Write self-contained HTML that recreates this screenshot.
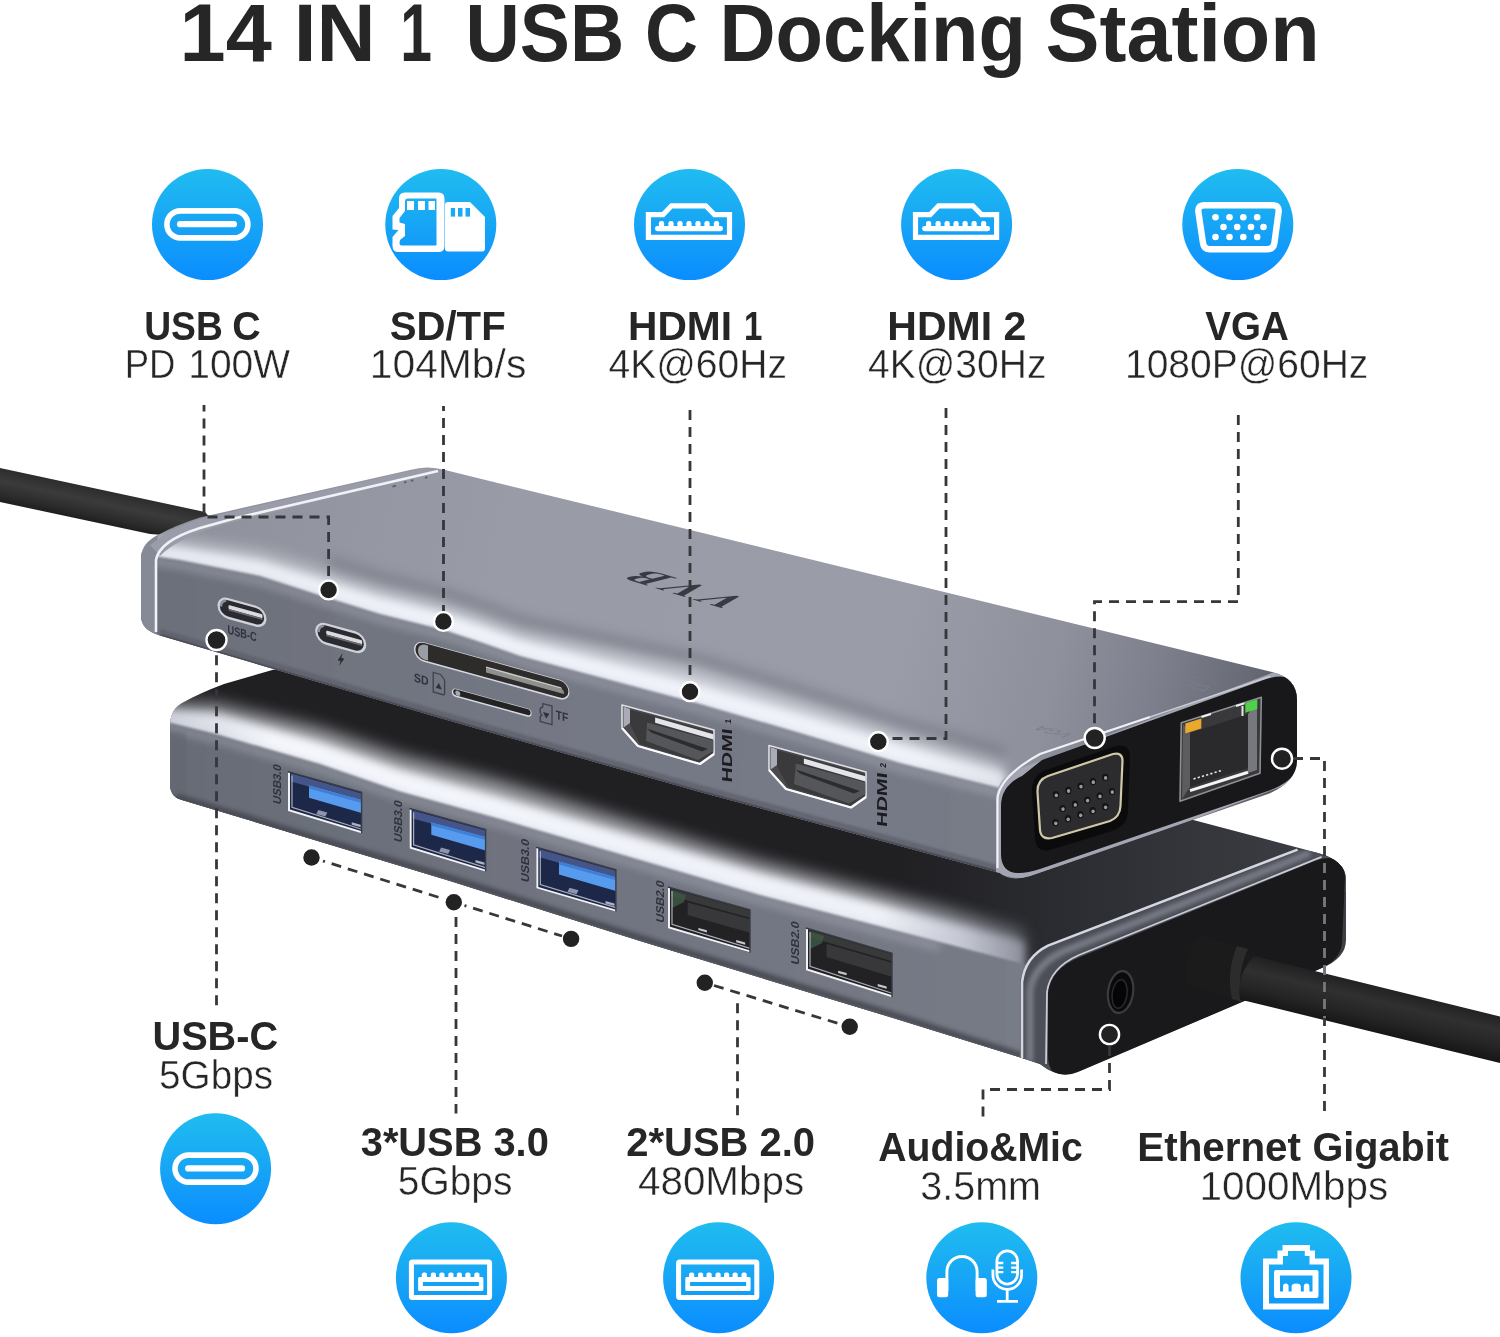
<!DOCTYPE html>
<html lang="en"><head><meta charset="utf-8"><title>14 IN 1 USB C Docking Station</title>
<style>
html,body{margin:0;padding:0;background:#fff;}
body{width:1500px;height:1337px;overflow:hidden;}
svg{display:block;position:absolute;left:0;top:0;will-change:transform;}
text{font-family:"Liberation Sans",sans-serif;fill:#262626;}
.b{font-weight:700;}
.r{stroke:#fff;stroke-width:0.45;paint-order:fill stroke;}
.pl{fill:#30323d;font-weight:700;}
.logo{font-family:"Liberation Serif",serif;font-weight:700;fill:#383a44;}
.faint{fill:#7b7f8b;}
.hl{fill:#1c1c20;font-weight:700;}
.dl{fill:none;stroke:#36363b;stroke-width:2.8;stroke-dasharray:10 7;}
</style></head>
<body>
<svg width="1500" height="1337" viewBox="0 0 1500 1337">
<rect width="1500" height="1337" fill="#ffffff"/>
<!-- defs -->
<defs>
<linearGradient id="gBlue" x1="0" y1="0" x2="0" y2="1">
<stop offset="0" stop-color="#1fbcf0"/><stop offset="0.5" stop-color="#17a5f5"/><stop offset="1" stop-color="#0a8dff"/>
</linearGradient>
<linearGradient id="gCableL" gradientUnits="userSpaceOnUse" x1="100" y1="489" x2="92" y2="526">
<stop offset="0" stop-color="#2c2c2c"/><stop offset="0.35" stop-color="#3b3b3b"/><stop offset="0.7" stop-color="#2b2b2b"/><stop offset="1" stop-color="#171717"/>
</linearGradient>
<linearGradient id="gCableR" gradientUnits="userSpaceOnUse" x1="1400" y1="992" x2="1389" y2="1038">
<stop offset="0" stop-color="#222"/><stop offset="0.3" stop-color="#303030"/><stop offset="0.65" stop-color="#252525"/><stop offset="1" stop-color="#141414"/>
</linearGradient>
<linearGradient id="gTopFace" gradientUnits="userSpaceOnUse" x1="200" y1="500" x2="1290" y2="750">
<stop offset="0" stop-color="#8f929c"/><stop offset="0.275" stop-color="#999ca6"/><stop offset="0.64" stop-color="#9a9da7"/><stop offset="0.78" stop-color="#8e919c"/><stop offset="0.87" stop-color="#7d808c"/><stop offset="0.945" stop-color="#696c77"/><stop offset="1" stop-color="#565861"/>
</linearGradient>
<linearGradient id="gTopFront" gradientUnits="userSpaceOnUse" x1="160" y1="0" x2="1000" y2="0">
<stop offset="0" stop-color="#6c707a"/><stop offset="0.5" stop-color="#757985"/><stop offset="1" stop-color="#777b87"/>
</linearGradient>
<linearGradient id="gBotFront" gradientUnits="userSpaceOnUse" x1="170" y1="0" x2="1022" y2="0">
<stop offset="0" stop-color="#686c76"/><stop offset="0.5" stop-color="#717581"/><stop offset="1" stop-color="#777b86"/>
</linearGradient>
<linearGradient id="gShadow" gradientUnits="userSpaceOnUse" x1="900" y1="0" x2="1330" y2="0">
<stop offset="0" stop-color="#202023"/><stop offset="0.4" stop-color="#2c2d32"/><stop offset="1" stop-color="#3d3f46"/>
</linearGradient>
<linearGradient id="gBotHi" gradientUnits="userSpaceOnUse" x1="170" y1="0" x2="1024" y2="0">
<stop offset="0" stop-color="#cfd2dc"/><stop offset="0.12" stop-color="#f4f6fc"/><stop offset="0.83" stop-color="#eff1f8"/><stop offset="0.93" stop-color="#c3c6d1"/><stop offset="1" stop-color="#8d909c"/>
</linearGradient>
<linearGradient id="gTopHi" gradientUnits="userSpaceOnUse" x1="150" y1="0" x2="1004" y2="0">
<stop offset="0" stop-color="#e9ebf3"/><stop offset="0.35" stop-color="#f1f3fa"/><stop offset="0.9" stop-color="#f0f2f9"/><stop offset="1" stop-color="#e2e4ec"/>
</linearGradient>
<filter id="b1" x="-5%" y="-20%" width="110%" height="140%"><feGaussianBlur stdDeviation="1"/></filter>
<filter id="b2" x="-5%" y="-20%" width="110%" height="140%"><feGaussianBlur stdDeviation="2"/></filter>
<filter id="b4" x="-5%" y="-20%" width="110%" height="140%"><feGaussianBlur stdDeviation="4"/></filter>
<filter id="b6" x="-5%" y="-20%" width="110%" height="140%"><feGaussianBlur stdDeviation="6"/></filter>
<filter id="b8" x="-5%" y="-30%" width="110%" height="160%"><feGaussianBlur stdDeviation="8"/></filter>
<filter id="b10" x="-10%" y="-30%" width="120%" height="160%"><feGaussianBlur stdDeviation="10"/></filter>
<clipPath id="cTop"><path d="M141 557 Q142 543 158 535 Q176 525 200 517.5 L410 470 Q427 465 445 470 L1272 672 Q1297 678 1297 700 L1297 760 Q1297 782 1268 794 L1030 876 Q1010 882 1000 873 L700 792 L440 718 L160 635.5 Q141 630 141 616 Z"/></clipPath>
<clipPath id="cBot"><path d="M170 724 Q171 708 184 702 Q200 693 224 684 L274 669.5 L1000 769 L1316 852.5 Q1346 860 1346 880 L1346 940 Q1346 958 1322 968 L1078 1072 Q1060 1080 1040 1064 L1022 1058 L893 1018 L640 941 L450 881 L182 800 Q170 797 170 784 Z"/></clipPath>
</defs>
<!-- cable_left -->
<g id="cable-left">
<path d="M0 468 L205 512 L230 540 L150 534 L0 502 Z" fill="url(#gCableL)"/>
</g>
<!-- bottom_hub -->
<g id="bottom-hub" clip-path="url(#cBot)">
<rect x="160" y="650" width="1200" height="440" fill="url(#gShadow)"/>
<!-- bevel highlight (soft toward shadow) -->
<path d="M150 701.0 L216 703.0 L320 728.0 L400 755.0 L500 781.0 L760 861.0 L940 907.0 L1024 931.0 L1024 990.0 L940 968.0 L760 921.0 L500 845.0 L400 817.5 L320 790.0 L216 760.0 L150 744.0 Z" fill="url(#gBotHi)" opacity="0.6" filter="url(#b8)"/>
<path d="M150 708.4 L216 713.2 L320 742.0 L400 769.5 L500 797.0 L760 873.0 L940 920.0 L1024 942.0 L1024 990.0 L940 968.0 L760 921.0 L500 845.0 L400 817.5 L320 790.0 L216 760.0 L150 744.0 Z" fill="url(#gBotHi)" filter="url(#b4)"/>
<!-- front face (sharp top edge) -->
<path d="M150 718.0 L216 734.0 L320 764.0 L400 791.5 L500 819.0 L760 895.0 L940 942.0 L1024 964.0 L1030 1100 L150 1100 Z" fill="url(#gBotFront)" filter="url(#b1)"/>
<path d="M150 723.0 L216 739.0 L320 769.0 L400 796.5 L500 824.0 L760 900.0 L940 947.0" fill="none" stroke="#b4b7c3" stroke-width="8" opacity="0.45" filter="url(#b4)"/>
<!-- left corner shade -->
<path d="M168 730 L186 734 L186 806 L168 800 Z" fill="#62666f" opacity="0.6" filter="url(#b2)"/>
<!-- bottom bevel -->
<path d="M176 797 L450 878 L640 938 L893 1015 L1022 1056" fill="none" stroke="#45474f" stroke-width="7" filter="url(#b2)" opacity="0.9"/>
<!-- chamfer -->
<path d="M1020 982 Q1024 958 1048 945.6 L1297.6 849.6 L1350 856 L1350 890 L1060 985 L1050 1075 L1020 1062 Z" fill="#4c4e58"/>
<path d="M1030 1062 L1030 990 Q1034 966 1062 952 L1310 853" fill="none" stroke="#82858f" stroke-width="7" filter="url(#b2)" opacity="0.8"/>
<path d="M1022 1058 L1022 982 Q1025 957 1048 945.6 L1297.6 849.6" fill="none" stroke="#d5d7e0" stroke-width="2.6"/>
<path d="M1046 1064 L1047 992 Q1050 968 1079 955 L1321.6 856.8" fill="none" stroke="#c9cbd4" stroke-width="1.8"/>
<!-- end face -->
<path d="M1048 994 Q1050 969 1080 957 L1316 860.5 Q1345 851 1345 878 L1342 944 Q1340 960 1320 969 L1082 1070 Q1048 1084 1048 1056 Z" fill="#19191b"/>
</g>
<!-- bottom_ports -->
<g id="bottom-ports">
<g class="usb-a"><path d="M288 771.6 L361.6 792.4 L361.6 833.2 L288 810.8 Z" fill="#1d2747"/><path d="M291 773.6 L361.6 793.4 L361.6 801.4 L291 781.6 Z" fill="#50669f" opacity="0.75"/><path d="M309.0 785.5 L361.6 799.9 L361.6 813.0 L309.0 797.7 Z" fill="#569bee"/><path d="M309.0 785.5 L361.6 799.9 L361.6 802.9 L309.0 788.5 Z" fill="#3f7fd6"/><path d="M318.3 809.9 l9 2.5 l-2 4 l-9 -2.5 Z" fill="#8c95ad"/><path d="M351.7 822.2 l9 2.5 l0 2.5 l-9 -2.5 Z" fill="#aab2c6"/><path d="M289 772.6 L289 810.1999999999999 L361.6 832.2" fill="none" stroke="#f1f2f6" stroke-width="2"/><path d="M292 775.6 L292 807.1999999999999 L361.6 829.2" fill="none" stroke="#b9bcc8" stroke-width="1.2" opacity="0.9"/><path d="M288 771.6 L361.6 792.4 L361.6 833.2" fill="none" stroke="#3a3c46" stroke-width="1.4"/></g>
<text class="pl" transform="translate(280.6 805) rotate(-90) skewX(-16)" font-size="11.4" textLength="39.5" lengthAdjust="spacingAndGlyphs">USB3.0</text>
<g class="usb-a"><path d="M409.6 808.4 L485.6 829.6 L485.6 871.6 L409.6 848.4 Z" fill="#1d2747"/><path d="M412.6 810.4 L485.6 830.6 L485.6 838.6 L412.6 818.4 Z" fill="#50669f" opacity="0.75"/><path d="M431.3 822.4 L485.6 837.1 L485.6 850.5 L431.3 834.8 Z" fill="#569bee"/><path d="M431.3 822.4 L485.6 837.1 L485.6 840.1 L431.3 825.4 Z" fill="#3f7fd6"/><path d="M441.1 847.6 l9 2.5 l-2 4 l-9 -2.5 Z" fill="#8c95ad"/><path d="M475.5 860.0 l9 2.5 l0 2.5 l-9 -2.5 Z" fill="#aab2c6"/><path d="M410.6 809.4 L410.6 847.8 L485.6 870.6" fill="none" stroke="#f1f2f6" stroke-width="2"/><path d="M413.6 812.4 L413.6 844.8 L485.6 867.6" fill="none" stroke="#b9bcc8" stroke-width="1.2" opacity="0.9"/><path d="M409.6 808.4 L485.6 829.6 L485.6 871.6" fill="none" stroke="#3a3c46" stroke-width="1.4"/></g>
<text class="pl" transform="translate(402.2 843) rotate(-90) skewX(-16)" font-size="11.4" textLength="41.5" lengthAdjust="spacingAndGlyphs">USB3.0</text>
<g class="usb-a"><path d="M536.3 847.2 L615.9 869.8 L615.9 911.6 L536.3 888.2 Z" fill="#1d2747"/><path d="M539.3 849.2 L615.9 870.8 L615.9 878.8 L539.3 857.2 Z" fill="#50669f" opacity="0.75"/><path d="M559.0 861.6 L615.9 877.3 L615.9 891.0 L559.0 874.4 Z" fill="#569bee"/><path d="M559.0 861.6 L615.9 877.3 L615.9 880.3 L559.0 864.6 Z" fill="#3f7fd6"/><path d="M569.5 887.8 l9 2.5 l-2 4 l-9 -2.5 Z" fill="#8c95ad"/><path d="M605.5 900.9 l9 2.5 l0 2.5 l-9 -2.5 Z" fill="#aab2c6"/><path d="M537.3 848.2 L537.3 887.6 L615.9 910.6" fill="none" stroke="#f1f2f6" stroke-width="2"/><path d="M540.3 851.2 L540.3 884.6 L615.9 907.6" fill="none" stroke="#b9bcc8" stroke-width="1.2" opacity="0.9"/><path d="M536.3 847.2 L615.9 869.8 L615.9 911.6" fill="none" stroke="#3a3c46" stroke-width="1.4"/></g>
<text class="pl" transform="translate(529 883) rotate(-90) skewX(-16)" font-size="11.4" textLength="43.0" lengthAdjust="spacingAndGlyphs">USB3.0</text>
<g class="usb-a"><path d="M668 887 L750 909.8 L750 952.4 L668 928 Z" fill="#222224"/><path d="M671 889 L750 910.8 L750 917.8 L671 896 Z" fill="#3b3d3d" opacity="0.9"/><path d="M687.7 902.5 L750 919.3 L750 932.8 L687.7 915.0 Z" fill="#38383a"/><path d="M672 891 l14 4 l-2 7 l-12 6 Z" fill="#3f5a45" opacity="0.8"/><path d="M698.4 927.9 l8.5 2.3 l0 2.2 l-8.5 -2.3 Z" fill="#c8c8cc"/><path d="M736.2 940.0 l9 2.5 l0 2.2 l-9 -2.5 Z" fill="#c8c8cc"/><path d="M669 888 L669 927.4 L750 951.4" fill="none" stroke="#f1f2f6" stroke-width="2"/><path d="M672 891 L672 924.4 L750 948.4" fill="none" stroke="#b9bcc8" stroke-width="1.2" opacity="0.9"/><path d="M668 887 L750 909.8 L750 952.4" fill="none" stroke="#3a3c46" stroke-width="1.4"/></g>
<text class="pl" transform="translate(663.6 923.5) rotate(-90) skewX(-16)" font-size="11.4" textLength="42.0" lengthAdjust="spacingAndGlyphs">USB2.0</text>
<g class="usb-a"><path d="M806 928 L892 953.3 L892 997.2 L806 970 Z" fill="#222224"/><path d="M809 930 L892 954.3 L892 961.3 L809 937 Z" fill="#3b3d3d" opacity="0.9"/><path d="M826.6 944.1 L892 962.8 L892 976.7 L826.6 956.9 Z" fill="#38383a"/><path d="M810 932 l14 4 l-2 7 l-12 6 Z" fill="#3f5a45" opacity="0.8"/><path d="M838.1 970.7 l8.5 2.3 l0 2.2 l-8.5 -2.3 Z" fill="#c8c8cc"/><path d="M877.7 984.0 l9 2.5 l0 2.2 l-9 -2.5 Z" fill="#c8c8cc"/><path d="M807 929 L807 969.4 L892 996.2" fill="none" stroke="#f1f2f6" stroke-width="2"/><path d="M810 932 L810 966.4 L892 993.2" fill="none" stroke="#b9bcc8" stroke-width="1.2" opacity="0.9"/><path d="M806 928 L892 953.3 L892 997.2" fill="none" stroke="#3a3c46" stroke-width="1.4"/></g>
<text class="pl" transform="translate(799.2 965.5) rotate(-90) skewX(-16)" font-size="11.4" textLength="43.0" lengthAdjust="spacingAndGlyphs">USB2.0</text>
</g>
<!-- bottom_ends -->
<g id="bottom-end-ports">
<ellipse cx="1120.6" cy="992" rx="12.5" ry="21" transform="rotate(8 1120.6 992)" fill="#0a0a0b" stroke="#3c3c40" stroke-width="2.2"/>
<ellipse cx="1119.6" cy="994" rx="7.4" ry="14.4" transform="rotate(8 1119.6 994)" fill="#050505" stroke="#2a2a2d" stroke-width="1.5"/>
</g>
<!-- cable_right -->
<g id="cable-right">
<path d="M1199 935 L1256 952 L1240 1002 L1187 984 Q1181 958 1199 935 Z" fill="#1b1b1b"/>
<path d="M1237 946 Q1226 972 1232 999 L1242 1002 Q1236 974 1248 949 Z" fill="#2c2c2c"/>
<path d="M1254 956 L1500 1016.5 L1500 1063 L1240 999.5 Q1236 976 1254 956 Z" fill="url(#gCableR)"/>
</g>
<!-- top_hub -->
<g id="top-hub" clip-path="url(#cTop)">
<!-- top face -->
<rect x="130" y="450" width="1200" height="440" fill="url(#gTopFace)"/>
<!-- darker band above bevel -->
<path d="M328 563.0 L380 579.0 L444 595.0 L480 607.0 L520 622.0 L700 661.0 L800 692.0 L900 724.0 L1004 754.0" fill="none" stroke="#6f737e" stroke-width="13" opacity="0.6" filter="url(#b6)"/>
<!-- bevel highlight (soft upper side) -->
<path d="M130 533.0 L160 539.0 L180 540.0 L260 552.0 L328 572.0 L380 588.0 L444 604.0 L480 616.0 L520 631.0 L700 670.0 L800 701.0 L900 733.0 L1004 763.0 L1004 811.0 L900 785.0 L800 755.0 L700 726.0 L520 678.0 L480 664.0 L444 652.0 L380 636.0 L328 620.0 L260 598.0 L180 582.0 L160 579.0 L130 573.0 Z" fill="url(#gTopHi)" opacity="0.55" filter="url(#b8)"/>
<path d="M130 540.5 L160 546.5 L180 548.0 L260 561.0 L328 581.5 L380 597.5 L444 613.5 L480 625.5 L520 640.2 L700 685.0 L800 714.0 L900 744.0 L1004 772.5 L1004 811.0 L900 785.0 L800 755.0 L700 726.0 L520 678.0 L480 664.0 L444 652.0 L380 636.0 L328 620.0 L260 598.0 L180 582.0 L160 579.0 L130 573.0 Z" fill="url(#gTopHi)" filter="url(#b4)"/>
<!-- front face (sharp top edge) -->
<path d="M130 551.0 L160 557.0 L180 560.0 L260 576.0 L328 598.0 L380 614.0 L444 630.0 L480 642.0 L520 656.0 L700 704.0 L800 733.0 L900 763.0 L1004 789.0 L1004 900 L130 900 Z" fill="url(#gTopFront)" filter="url(#b1)"/>
<path d="M130 556.0 L160 562.0 L180 565.0 L260 581.0 L328 603.0 L380 619.0 L444 635.0 L480 647.0 L520 661.0 L700 709.0 L800 738.0 L900 768.0 L1004 794.0" fill="none" stroke="#b4b7c3" stroke-width="8" opacity="0.45" filter="url(#b4)"/>
<!-- bottom bevel -->
<path d="M160 631 L440 713 L700 787 L997 867" fill="none" stroke="#5d606b" stroke-width="4" filter="url(#b1)" opacity="0.8"/>
<path d="M160 636 L440 718 L700 792 L997 872" fill="none" stroke="#3c3e46" stroke-width="3.4" filter="url(#b1)"/>
<!-- left chamfer -->
<path d="M138 560 Q141 544 158 532 L157 556 L157 634 L138 628 Z" fill="#868a97"/><path d="M150 545 Q170 528 200 519 L420 469 L442 471 L240 520 Q180 535 160 556 Z" fill="#9a9da9"/>
<path d="M156 632 L156 560 Q159 541 200 528 L236 518 L438 471" fill="none" stroke="#f0f2f8" stroke-width="2.6"/>
<!-- end-face chamfer + face -->
<path d="M996 800 Q996 780 1016 770 L1280 670 L1300 690 L1300 780 L1030 880 L996 874 Z" fill="#a3a6b2"/>
<path d="M997.5 868 L997.5 798 Q1000 776 1040 754 L1150 717" fill="none" stroke="#f0f1f6" stroke-width="2.2"/><path d="M1150 717 L1270 676.5" fill="none" stroke="#c9cbd4" stroke-width="1.8"/>
<path d="M1001 806 Q1001 786 1022 776 L1042 760 L1262 680.5 Q1299 667 1299 700 L1299 758 Q1299 780 1268 791 L1040 869 Q1001 882 1001 854 Z" fill="#18181a"/>
</g>
<!-- top_ports -->
<g id="top-ports">
<g transform="translate(242 612.3) skewY(15.38)"><rect x="-24.5" y="-10.5" width="49" height="21" rx="10.5" fill="#cfd2db"/><rect x="-22.1" y="-8.1" width="44.2" height="16.2" rx="8.1" fill="#2b2b2f"/><path d="M-21.0 0 a7.5 7.5 0 0 1 5 -7.3" fill="none" stroke="#8d909a" stroke-width="2.4"/><rect x="-13.5" y="-3.6" width="34.0" height="4" rx="1.2" fill="#d9dbe0"/><rect x="-13.5" y="0.4" width="34.0" height="1.6" fill="#6a6b70"/></g>
<g transform="translate(340.7 638) skewY(15.38)"><rect x="-25.5" y="-10.8" width="51" height="21.6" rx="10.8" fill="#cfd2db"/><rect x="-23.1" y="-8.4" width="46.2" height="16.8" rx="8.4" fill="#2b2b2f"/><path d="M-22.0 0 a7.800000000000001 7.800000000000001 0 0 1 5 -7.6" fill="none" stroke="#8d909a" stroke-width="2.4"/><rect x="-14.5" y="-3.6" width="36.0" height="4" rx="1.2" fill="#d9dbe0"/><rect x="-14.5" y="0.4" width="36.0" height="1.6" fill="#6a6b70"/></g>
<text class="pl" transform="translate(227.6 633.6) skewY(15.4)" font-size="12.6" textLength="29" lengthAdjust="spacingAndGlyphs">USB-C</text>
<path d="M342.6 653 L337.6 660.4 L340.6 661 L339 666 L344.4 658.6 L341.4 658 Z" fill="#2d2e34"/>
<g transform="translate(414 639.6) skewY(15.43)"><rect x="0" y="0" width="155.4" height="19.4" rx="9.7" fill="#d5d8e0"/><rect x="1.4" y="0.6" width="153.0" height="17.2" rx="8.7" fill="#2e2c2b"/><path d="M4 9.7 a7.5 7.5 0 0 1 6 -7.6 l4 0 l0 15 l-4 0 a7.5 7.5 0 0 1 -6 -7.4 Z" fill="#9a9da6"/><path d="M72 8.5 L148 8.5 Q150.5 10 150 13 L148 13 L72 13 Z" fill="#8f8f8e"/><path d="M72 7 L147 7 L148 8.6 L72 8.6 Z" fill="#c9c9c8"/></g>
<g transform="translate(451.8 687.6) skewY(15.43)"><rect x="0" y="0" width="79.8" height="8.2" rx="4.1" fill="#d5d8e0"/><rect x="1.4" y="0.6" width="77.4" height="6.0" rx="3.1" fill="#232323"/><circle cx="6" cy="4" r="2.6" fill="#a7aab3"/></g>
<text class="pl" transform="translate(414 681.6) skewY(15.4)" font-size="12.4" textLength="14.6" lengthAdjust="spacingAndGlyphs">SD</text>
<g transform="translate(432.4 672.2) skewY(15.4)"><path d="M0.8 0 H8.2 L12.2 4.4 V18 Q12.2 19.6 10.8 19.6 H0.8 Z" fill="none" stroke="#3f414c" stroke-width="1.3"/><path d="M6.4 9 L9.4 14.6 H3.4 Z" fill="#2f3038"/></g>
<text class="pl" transform="translate(555.8 718.8) skewY(15.4)" font-size="12.4" textLength="12.4" lengthAdjust="spacingAndGlyphs">TF</text>
<g transform="translate(539.4 702.6) skewY(15.4)"><path d="M3.4 0 H12.6 V18.6 H0.8 V13.6 L2.6 11.8 L0.8 10 V5.4 L3.4 3.4 Z" fill="none" stroke="#3f414c" stroke-width="1.3"/><path d="M3.6 8.4 H10 L6.8 14 Z" fill="#2f3038"/></g>
<g class="hdmi"><path d="M622 705 L714 730 L714 754 L700 764 L638 746 L622 728 Z" fill="#4a4a4d" stroke="#dfe0e6" stroke-width="1.6" stroke-linejoin="round"/><path d="M629 709.5 L713 732 L713 753 L699 762 L640 744 L629 722 Z" fill="#3a3a3c"/><path d="M623.5 706.5 L630 709 L630 723 L623.5 727.5 Z" fill="#a9acb6"/><path d="M655.1 717.6 L713.4 734.2 L713.4 739.4 L655.1 722.8 Z" fill="#e4e5ea"/><path d="M647.1 722.6 L713.4 740.5 L713.4 751.0 L698 760 L646 741 Z" fill="#55565a"/><path d="M647.1 728.6 L708 749.0 L702 751.5 L651.1 732.6 Z" fill="#2c2c2e"/><path d="M622 728 L638 746 L700 764 L714 754" fill="none" stroke="#fafbfd" stroke-width="2.2" stroke-linejoin="round"/></g>
<text class="hl" transform="translate(732 783) rotate(-90) skewX(-8)"><tspan font-size="14.4" textLength="54.0" lengthAdjust="spacingAndGlyphs">HDMI</tspan><tspan font-size="8.5" dx="2.5" dy="-1"> 1</tspan></text>
<g class="hdmi"><path d="M769 745.5 L866 772 L866 797 L851 807.5 L786 789 L769 770 Z" fill="#4a4a4d" stroke="#dfe0e6" stroke-width="1.6" stroke-linejoin="round"/><path d="M776 750.0 L865 774 L865 796 L850 805.5 L788 787 L776 764 Z" fill="#3a3a3c"/><path d="M770.5 747.0 L777 749.5 L777 765 L770.5 769.5 Z" fill="#a9acb6"/><path d="M803.9 758.6 L865.4 776.2 L865.4 781.4 L803.9 763.8 Z" fill="#e4e5ea"/><path d="M795.9 763.6 L865.4 782.5 L865.4 794.0 L849 803.5 L794 784 Z" fill="#55565a"/><path d="M795.9 769.6 L860 791.0 L854 793.5 L799.9 773.6 Z" fill="#2c2c2e"/><path d="M769 770 L786 789 L851 807.5 L866 797" fill="none" stroke="#fafbfd" stroke-width="2.2" stroke-linejoin="round"/></g>
<text class="hl" transform="translate(887 827.5) rotate(-90) skewX(-8)"><tspan font-size="14.4" textLength="54.5" lengthAdjust="spacingAndGlyphs">HDMI</tspan><tspan font-size="8.5" dx="2.5" dy="-1"> 2</tspan></text>
</g>
<!-- top_ends -->
<g id="top-end-ports">
<path d="M1032 792 Q1031 776 1046 770 L1116 746 Q1130 743 1130 756 L1128 812 Q1127 826 1112 831 L1050 850 Q1036 853 1035 838 Z" fill="#0b0b0c"/>
<path d="M1037.5 792 Q1037 780 1048 776 L1113 754 Q1122.5 752 1122.5 761 L1120.5 806 Q1120 817 1110 821 L1052 838 Q1041 840 1040 830 Z" fill="#2c2c2e" stroke="#cfc9aa" stroke-width="2.2"/>
<ellipse cx="1056.0" cy="794.7" rx="3.2" ry="3.6" fill="#141415"/><ellipse cx="1056.3" cy="795.3" rx="1.7" ry="1.9" fill="#9a9a9c"/><ellipse cx="1068.3" cy="790.4" rx="3.2" ry="3.6" fill="#141415"/><ellipse cx="1068.6" cy="791.0" rx="1.7" ry="1.9" fill="#9a9a9c"/><ellipse cx="1080.7" cy="786.0" rx="3.2" ry="3.6" fill="#141415"/><ellipse cx="1081.0" cy="786.6" rx="1.7" ry="1.9" fill="#9a9a9c"/><ellipse cx="1093.0" cy="781.6" rx="3.2" ry="3.6" fill="#141415"/><ellipse cx="1093.3" cy="782.2" rx="1.7" ry="1.9" fill="#9a9a9c"/><ellipse cx="1105.3" cy="777.3" rx="3.2" ry="3.6" fill="#141415"/><ellipse cx="1105.6" cy="777.9" rx="1.7" ry="1.9" fill="#9a9a9c"/><ellipse cx="1062.7" cy="808.5" rx="3.2" ry="3.6" fill="#141415"/><ellipse cx="1063.0" cy="809.1" rx="1.7" ry="1.9" fill="#9a9a9c"/><ellipse cx="1075.0" cy="804.2" rx="3.2" ry="3.6" fill="#141415"/><ellipse cx="1075.3" cy="804.9" rx="1.7" ry="1.9" fill="#9a9a9c"/><ellipse cx="1087.3" cy="800.0" rx="3.2" ry="3.6" fill="#141415"/><ellipse cx="1087.6" cy="800.6" rx="1.7" ry="1.9" fill="#9a9a9c"/><ellipse cx="1099.7" cy="795.8" rx="3.2" ry="3.6" fill="#141415"/><ellipse cx="1100.0" cy="796.4" rx="1.7" ry="1.9" fill="#9a9a9c"/><ellipse cx="1112.0" cy="791.5" rx="3.2" ry="3.6" fill="#141415"/><ellipse cx="1112.3" cy="792.1" rx="1.7" ry="1.9" fill="#9a9a9c"/><ellipse cx="1055.5" cy="822.7" rx="3.2" ry="3.6" fill="#141415"/><ellipse cx="1055.8" cy="823.3" rx="1.7" ry="1.9" fill="#9a9a9c"/><ellipse cx="1068.0" cy="818.7" rx="3.2" ry="3.6" fill="#141415"/><ellipse cx="1068.2" cy="819.3" rx="1.7" ry="1.9" fill="#9a9a9c"/><ellipse cx="1080.4" cy="814.7" rx="3.2" ry="3.6" fill="#141415"/><ellipse cx="1080.7" cy="815.3" rx="1.7" ry="1.9" fill="#9a9a9c"/><ellipse cx="1092.8" cy="810.7" rx="3.2" ry="3.6" fill="#141415"/><ellipse cx="1093.1" cy="811.3" rx="1.7" ry="1.9" fill="#9a9a9c"/><ellipse cx="1105.3" cy="806.7" rx="3.2" ry="3.6" fill="#141415"/><ellipse cx="1105.6" cy="807.3" rx="1.7" ry="1.9" fill="#9a9a9c"/>
<path d="M1181.3 722.7 L1261.3 697.3 L1260 773.3 L1180 801.3 Z" fill="#39393b" stroke="#8e8f95" stroke-width="1.6" stroke-linejoin="round"/>
<path d="M1190 733 L1248 714 L1248 768 L1190 787 Z" fill="#2a2a2c"/>
<path d="M1248 714 L1257 703 L1257 770 L1248 773 Z" fill="#77787d"/>
<path d="M1183 724 L1190 733 L1190 787 L1182 799 Z" fill="#5b5c60"/>
<path d="M1190 790.6 L1248 772.2" stroke="#f4f4f6" stroke-width="3" fill="none"/>
<path d="M1193.5 779 L1223 770" stroke="#e8e8ea" stroke-width="1.6" stroke-dasharray="2.2 2.2" fill="none"/>
<path d="M1185.3 723.5 L1201.3 718.5 L1201.3 728.5 L1185.3 733.5 Z" fill="#eaa92c"/>
<path d="M1245.3 703 L1257.3 699.2 L1257.3 709 L1245.3 712.8 Z" fill="#4fd24a"/>
<path d="M1201.5 717 L1211 714 M1236 706 L1244.5 703.4" stroke="#f2f2f4" stroke-width="2" fill="none"/>
<path d="M1242.5 706 L1242.5 716" stroke="#e6e6e8" stroke-width="2" fill="none"/>
</g>
<g id="top-face-marks">
<text class="logo" transform="matrix(-2.08 -0.625 2.32 -0.57 752.3 600.7)" font-size="20" letter-spacing="3.5">VVB</text>
<text class="faint" transform="matrix(-1.7 -0.5 1.9 -0.47 1075 735)" font-size="9">VGA</text>
<path d="M1176 683 l12 3 l5 -4 l-12 -3 Z M1192 688 l12 3 l5 -4 l-12 -3 Z M1186 680 l10 -3.4" fill="none" stroke="#787c88" stroke-width="1.2"/>
<path d="M392.5 486.6 l3.4 -1 M404 482.6 l2.4 -0.7 M411 480.8 l2.4 -0.7 M425 477.8 l2.4 -0.6" stroke="#5c606b" stroke-width="1.8" fill="none"/>
</g>
<!-- lines -->
<g id="leader-lines">
<path class="dl" d="M204 405 V517 H328.6 V580" stroke-dashoffset="3.5"/>
<path class="dl" d="M443.5 406 V612" stroke-dashoffset="5"/>
<path class="dl" d="M690 410 V682"/>
<path class="dl" d="M946 408 V738.5 H888"/>
<path class="dl" d="M1238.3 415 V601.7 H1094.5 V727"/>
<path class="dl" d="M1293 758.5 H1324.5 V1115"/>
<path class="dl" d="M216.5 655.3 V1010"/>
<path id="eth-over" class="dl" d="M1324.5 860 V1018" stroke-dashoffset="14" style="stroke:#77777c"/>
<path class="dl" d="M323 861 L444 899 M464.5 905.5 L562 936" stroke-dashoffset="8"/>
<path class="dl" d="M456 917 V1113.5"/>
<path class="dl" d="M714 985.5 L840 1024"/>
<path class="dl" d="M737.5 1003.3 V1115.3"/>
<path class="dl" d="M1109.5 1046 V1089.5 H983 V1122"/>
<g fill="#222" stroke="#fff" stroke-width="2.4">
<circle cx="328.6" cy="590" r="9.4"/>
<circle cx="443.4" cy="621.5" r="9.4"/>
<circle cx="690" cy="691.7" r="9.4"/>
<circle cx="878.3" cy="741.7" r="9.4"/>
<circle cx="216.5" cy="640" r="10"/>
<circle cx="1094.7" cy="738" r="10"/>
<circle cx="1282" cy="758.7" r="10"/>
<circle cx="1109.5" cy="1034.5" r="9.6"/>
</g>
<g fill="#222">
<circle cx="311.5" cy="857.5" r="8.2"/>
<circle cx="453.8" cy="902.2" r="8.2"/>
<circle cx="571.1" cy="938.9" r="8.2"/>
<circle cx="704.8" cy="982.8" r="8.2"/>
<circle cx="849.7" cy="1026.8" r="8.2"/>
</g>
</g>
<!-- icons -->
<g id="icons">
<circle cx="207.5" cy="224.6" r="55.5" fill="url(#gBlue)"/>
<rect x="166.9" y="210.9" width="81" height="27" rx="13.5" fill="none" stroke="#fff" stroke-width="5.6"/><rect x="177.0" y="221.1" width="60" height="6.2" rx="3.1" fill="#fff"/>
<circle cx="440.8" cy="224.6" r="55.5" fill="url(#gBlue)"/>
<path fill="#fff" fill-rule="evenodd" d="M405 192.5 H438.5 Q444.5 192.5 444.5 198.5 V246 Q444.5 252 438.5 252 H398.5 Q392.5 252 392.5 246 V237 L398.5 230 L392.5 229.5 V216 L399 208 V198.5 Q399 192.5 405 192.5 Z M408 198.5 H435.5 Q436.5 198.5 436.5 199.5 V244.5 Q436.5 245.5 435.5 245.5 H402 Q399.5 245.5 399.5 243 L400 240 L405 236 V224 L399.5 222.5 V218 L405 211 V201.5 Q405 198.5 408 198.5 Z"/><rect x="407" y="201" width="7" height="9" fill="#fff"/><rect x="418" y="201" width="7" height="9" fill="#fff"/><rect x="428.5" y="201" width="6.5" height="9" fill="#fff"/><path fill="#fff" d="M448 202 H470 L485 217 V248.5 Q485 251.5 482 251.5 H448 Q445 251.5 445 248.5 V205 Q445 202 448 202 Z"/><rect x="450.8" y="208" width="4.3" height="8.6" fill="#1aa9f4"/><rect x="458" y="208" width="4.5" height="8.6" fill="#1aa9f4"/><rect x="465.5" y="208" width="4.5" height="8.6" fill="#1aa9f4"/>
<circle cx="689.5" cy="224.6" r="55.5" fill="url(#gBlue)"/>
<g transform="translate(0.0 0.0)"><path d="M648.4 214.7 H663 L671.5 205.8 H705.8 L714.5 214.7 H729.5 V237.4 H648.4 Z" fill="none" stroke="#fff" stroke-width="5.2" stroke-linejoin="miter"/><rect x="655" y="226" width="68" height="5.2" rx="2.4" fill="#fff"/><rect x="658.9" y="221" width="5.2" height="7" rx="2.2" fill="#fff"/><rect x="668.4" y="221" width="5.2" height="7" rx="2.2" fill="#fff"/><rect x="677.4" y="221" width="5.2" height="7" rx="2.2" fill="#fff"/><rect x="686.4" y="221" width="5.2" height="7" rx="2.2" fill="#fff"/><rect x="695.4" y="221" width="5.2" height="7" rx="2.2" fill="#fff"/><rect x="704.4" y="221" width="5.2" height="7" rx="2.2" fill="#fff"/><rect x="713.9" y="221" width="5.2" height="7" rx="2.2" fill="#fff"/></g>
<circle cx="956.6" cy="224.6" r="55.5" fill="url(#gBlue)"/>
<g transform="translate(267.1 0.0)"><path d="M648.4 214.7 H663 L671.5 205.8 H705.8 L714.5 214.7 H729.5 V237.4 H648.4 Z" fill="none" stroke="#fff" stroke-width="5.2" stroke-linejoin="miter"/><rect x="655" y="226" width="68" height="5.2" rx="2.4" fill="#fff"/><rect x="658.9" y="221" width="5.2" height="7" rx="2.2" fill="#fff"/><rect x="668.4" y="221" width="5.2" height="7" rx="2.2" fill="#fff"/><rect x="677.4" y="221" width="5.2" height="7" rx="2.2" fill="#fff"/><rect x="686.4" y="221" width="5.2" height="7" rx="2.2" fill="#fff"/><rect x="695.4" y="221" width="5.2" height="7" rx="2.2" fill="#fff"/><rect x="704.4" y="221" width="5.2" height="7" rx="2.2" fill="#fff"/><rect x="713.9" y="221" width="5.2" height="7" rx="2.2" fill="#fff"/></g>
<circle cx="1237.8" cy="224.6" r="55.5" fill="url(#gBlue)"/>
<path d="M1204.5 205.3 H1272.5 Q1279.5 205.3 1278.6 212 L1274.4 243 Q1273.5 249.3 1267 249.3 H1210 Q1203.8 249.3 1203 243 L1198.4 212 Q1197.5 205.3 1204.5 205.3 Z" fill="none" stroke="#fff" stroke-width="6.4"/><circle cx="1215.5" cy="217.2" r="3.3" fill="#fff"/><circle cx="1229.5" cy="217.2" r="3.3" fill="#fff"/><circle cx="1243.3" cy="217.2" r="3.3" fill="#fff"/><circle cx="1257.2" cy="217.2" r="3.3" fill="#fff"/><circle cx="1223.5" cy="227" r="3.3" fill="#fff"/><circle cx="1237.2" cy="227" r="3.3" fill="#fff"/><circle cx="1251" cy="227" r="3.3" fill="#fff"/><circle cx="1263.5" cy="227" r="3.3" fill="#fff"/><circle cx="1215.5" cy="237" r="3.3" fill="#fff"/><circle cx="1229.5" cy="237" r="3.3" fill="#fff"/><circle cx="1243.3" cy="237" r="3.3" fill="#fff"/><circle cx="1257.2" cy="237" r="3.3" fill="#fff"/>
<circle cx="215.6" cy="1168.8" r="55.5" fill="url(#gBlue)"/>
<rect x="175.0" y="1155.1" width="81" height="27" rx="13.5" fill="none" stroke="#fff" stroke-width="5.6"/><rect x="185.1" y="1165.3" width="60" height="6.2" rx="3.1" fill="#fff"/>
<circle cx="451.4" cy="1277.7" r="55.5" fill="url(#gBlue)"/>
<g transform="translate(-0.1 0.0)"><rect x="411.5" y="1262" width="78.2" height="35.4" rx="1" fill="none" stroke="#fff" stroke-width="5"/><path fill-rule="evenodd" fill="#fff" d="M419.5 1277 H482 Q483.5 1277 483.5 1278.5 V1289.5 Q483.5 1291 482 1291 H419.5 Q418.2 1291 418.2 1289.5 V1278.5 Q418.2 1277 419.5 1277 Z M423 1282 V1286 H479 V1282 Z"/><rect x="421.9" y="1272.5" width="5.2" height="6" rx="2" fill="#fff"/><rect x="430.9" y="1272.5" width="5.2" height="6" rx="2" fill="#fff"/><rect x="439.4" y="1272.5" width="5.2" height="6" rx="2" fill="#fff"/><rect x="448.4" y="1272.5" width="5.2" height="6" rx="2" fill="#fff"/><rect x="456.9" y="1272.5" width="5.2" height="6" rx="2" fill="#fff"/><rect x="465.4" y="1272.5" width="5.2" height="6" rx="2" fill="#fff"/><rect x="474.4" y="1272.5" width="5.2" height="6" rx="2" fill="#fff"/></g>
<circle cx="718.6" cy="1277.7" r="55.5" fill="url(#gBlue)"/>
<g transform="translate(267.1 0.0)"><rect x="411.5" y="1262" width="78.2" height="35.4" rx="1" fill="none" stroke="#fff" stroke-width="5"/><path fill-rule="evenodd" fill="#fff" d="M419.5 1277 H482 Q483.5 1277 483.5 1278.5 V1289.5 Q483.5 1291 482 1291 H419.5 Q418.2 1291 418.2 1289.5 V1278.5 Q418.2 1277 419.5 1277 Z M423 1282 V1286 H479 V1282 Z"/><rect x="421.9" y="1272.5" width="5.2" height="6" rx="2" fill="#fff"/><rect x="430.9" y="1272.5" width="5.2" height="6" rx="2" fill="#fff"/><rect x="439.4" y="1272.5" width="5.2" height="6" rx="2" fill="#fff"/><rect x="448.4" y="1272.5" width="5.2" height="6" rx="2" fill="#fff"/><rect x="456.9" y="1272.5" width="5.2" height="6" rx="2" fill="#fff"/><rect x="465.4" y="1272.5" width="5.2" height="6" rx="2" fill="#fff"/><rect x="474.4" y="1272.5" width="5.2" height="6" rx="2" fill="#fff"/></g>
<circle cx="981.8" cy="1277.7" r="55.5" fill="url(#gBlue)"/>
<path d="M946.9 1291 V1271.5 A15.1 15.1 0 0 1 977.1 1271.5 V1291" fill="none" stroke="#fff" stroke-width="2.9"/><rect x="937" y="1278" width="11.2" height="19.2" rx="2.5" fill="#fff"/><rect x="975.6" y="1278" width="11.2" height="19.2" rx="2.5" fill="#fff"/><rect x="996.9" y="1250.9" width="20.7" height="33.2" rx="10.35" fill="none" stroke="#fff" stroke-width="2.8"/><path d="M997 1263 H1003.3 M997 1267.6 H1003.3 M997 1272.2 H1003.3 M1011.2 1263 H1017.5 M1011.2 1267.6 H1017.5 M1011.2 1272.2 H1017.5" stroke="#fff" stroke-width="2.3" fill="none"/><path d="M992.9 1269.5 V1275 A14.35 14.35 0 0 0 1021.6 1275 V1269.5" fill="none" stroke="#fff" stroke-width="2.8"/><path d="M1007.2 1289 V1301 M997 1301.4 H1018" stroke="#fff" stroke-width="2.8" fill="none"/>
<circle cx="1296" cy="1277.7" r="55.5" fill="url(#gBlue)"/>
<path fill="#fff" fill-rule="evenodd" d="M1263 1258.5 H1277.5 V1250.5 H1282.5 V1245 H1310 V1250.5 H1315 V1258.5 H1329 V1309.5 H1263 Z M1269 1264.5 H1283 V1256 H1288 V1251 H1304.8 V1256 H1309.5 V1264.5 H1323.5 V1303.5 H1269 Z"/><path fill="#fff" fill-rule="evenodd" d="M1276 1270 H1316.5 Q1318.5 1270 1318.5 1272 V1296 Q1318.5 1298 1316.5 1298 H1276 Q1274 1298 1274 1296 V1272 Q1274 1270 1276 1270 Z M1280 1275.5 V1291.5 H1283 V1286.5 Q1283 1283.5 1285.8 1283.5 Q1288.6 1283.5 1288.6 1286.5 V1291.5 H1291.6 V1286.5 Q1291.6 1283.5 1296.2 1283.5 Q1300.8 1283.5 1300.8 1286.5 V1291.5 H1303.8 V1286.5 Q1303.8 1283.5 1306.6 1283.5 Q1309.4 1283.5 1309.4 1286.5 V1291.5 H1312.5 V1275.5 Z"/>
</g>
<!-- text -->
<g id="labels">
<text class="b" y="60.9" font-size="81.6"><tspan x="179.50" textLength="92.29" lengthAdjust="spacingAndGlyphs">14</tspan> <tspan x="293.75" textLength="81.84" lengthAdjust="spacingAndGlyphs">IN</tspan> <tspan x="400.25" textLength="31.75" lengthAdjust="spacingAndGlyphs">1</tspan> <tspan x="465.50" textLength="158.69" lengthAdjust="spacingAndGlyphs">USB</tspan> <tspan x="645.00" textLength="53.03" lengthAdjust="spacingAndGlyphs">C</tspan> <tspan x="719.50" textLength="306.43" lengthAdjust="spacingAndGlyphs">Docking</tspan> <tspan x="1045.50" textLength="274.24" lengthAdjust="spacingAndGlyphs">Station</tspan></text>
<text class="b" y="339.6" font-size="40"><tspan x="144.25" textLength="78.57" lengthAdjust="spacingAndGlyphs">USB</tspan> <tspan x="232.25" textLength="28.48" lengthAdjust="spacingAndGlyphs">C</tspan></text>
<text class="r" y="378.4" font-size="40.4"><tspan x="124.75" textLength="50.71" lengthAdjust="spacingAndGlyphs">PD</tspan> <tspan x="188.25" textLength="101.71" lengthAdjust="spacingAndGlyphs">100W</tspan></text>
<text class="b" x="389.75" y="339.6" font-size="40" textLength="115.88" lengthAdjust="spacingAndGlyphs">SD/TF</text>
<text class="r" x="369.75" y="378.4" font-size="40.4" textLength="156.56" lengthAdjust="spacingAndGlyphs">104Mb/s</text>
<text class="b" y="339.6" font-size="40"><tspan x="628.00" textLength="104.08" lengthAdjust="spacingAndGlyphs">HDMI</tspan> <tspan x="744.00" textLength="18.38" lengthAdjust="spacingAndGlyphs">1</tspan></text>
<text class="r" x="608.50" y="378.4" font-size="40.4" textLength="178.48" lengthAdjust="spacingAndGlyphs">4K@60Hz</text>
<text class="b" x="887.25" y="339.6" font-size="40" textLength="139.05" lengthAdjust="spacingAndGlyphs">HDMI 2</text>
<text class="r" x="868.00" y="378.4" font-size="40.4" textLength="178.48" lengthAdjust="spacingAndGlyphs">4K@30Hz</text>
<text class="b" x="1205.25" y="339.6" font-size="40" textLength="83.44" lengthAdjust="spacingAndGlyphs">VGA</text>
<text class="r" x="1125.00" y="378.4" font-size="40.4" textLength="243.36" lengthAdjust="spacingAndGlyphs">1080P@60Hz</text>
<text class="b" x="152.50" y="1050" font-size="40" textLength="125.66" lengthAdjust="spacingAndGlyphs">USB-C</text>
<text class="r" x="159.00" y="1089.0" font-size="40.4" textLength="114.07" lengthAdjust="spacingAndGlyphs">5Gbps</text>
<text class="b" x="360.75" y="1156.1" font-size="40" textLength="188.02" lengthAdjust="spacingAndGlyphs">3*USB 3.0</text>
<text class="r" x="397.75" y="1195.2" font-size="40.4" textLength="114.59" lengthAdjust="spacingAndGlyphs">5Gbps</text>
<text class="b" x="626.25" y="1156.1" font-size="40" textLength="188.78" lengthAdjust="spacingAndGlyphs">2*USB 2.0</text>
<text class="r" x="638.00" y="1195.2" font-size="40.4" textLength="166.12" lengthAdjust="spacingAndGlyphs">480Mbps</text>
<text class="b" x="878.25" y="1161" font-size="40" textLength="204.53" lengthAdjust="spacingAndGlyphs">Audio&amp;Mic</text>
<text class="r" x="920.25" y="1200.2" font-size="40.4" textLength="120.77" lengthAdjust="spacingAndGlyphs">3.5mm</text>
<text class="b" y="1160.9" font-size="40"><tspan x="1137.25" textLength="163.78" lengthAdjust="spacingAndGlyphs">Ethernet</tspan> <tspan x="1312.50" textLength="136.50" lengthAdjust="spacingAndGlyphs">Gigabit</tspan></text>
<text class="r" x="1199.50" y="1200.2" font-size="40.4" textLength="188.75" lengthAdjust="spacingAndGlyphs">1000Mbps</text>
</g>
</svg>
</body></html>
